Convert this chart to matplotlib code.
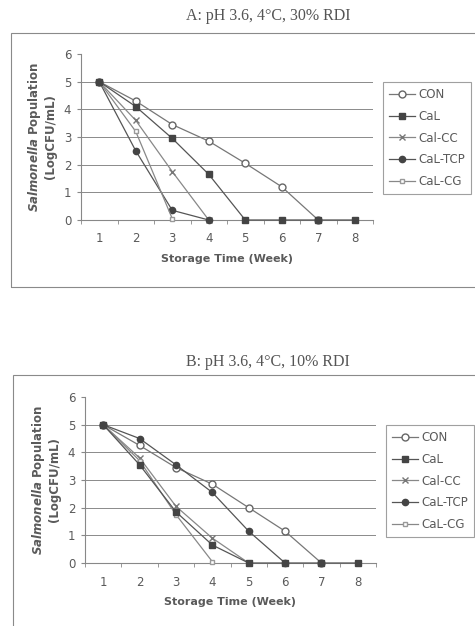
import numpy as np
import matplotlib.pyplot as plt
from matplotlib.patches import Rectangle

weeks = [1, 2, 3, 4, 5, 6, 7, 8]
labels = ['CON', 'CaL', 'Cal-CC', 'CaL-TCP', 'CaL-CG']
nan = np.nan

# panel A: 30% RDI
a_con = [5.0, 4.3, 3.45, 2.85, 2.05, 1.2, 0.0, nan]
a_cal = [5.0, 4.1, 2.95, 1.65, 0.0, 0.0, 0.0, 0.0]
a_cc = [5.0, 3.6, 1.75, 0.0, nan, nan, nan, nan]
a_tcp = [5.0, 2.5, 0.35, 0.0, nan, nan, nan, nan]
a_cg = [5.0, 3.2, 0.05, nan, nan, nan, nan, nan]

# panel B: 10% RDI
b_con = [5.0, 4.25, 3.45, 2.85, 2.0, 1.15, 0.0, nan]
b_cal = [5.0, 3.55, 1.85, 0.65, 0.0, 0.0, 0.0, 0.0]
b_cc = [5.0, 3.8, 2.05, 0.9, 0.0, nan, nan, nan]
b_tcp = [5.0, 4.5, 3.55, 2.55, 1.15, 0.0, nan, nan]
b_cg = [5.0, 3.7, 1.75, 0.05, nan, nan, nan, nan]

styles = [
    dict(marker='o', mfc='white', mec='#666666', ms=5, color='#777777'),
    dict(marker='s', mfc='#444444', mec='#444444', ms=4.5, color='#555555'),
    dict(marker='x', mfc='#777777', mec='#777777', ms=5, color='#888888'),
    dict(marker='o', mfc='#444444', mec='#444444', ms=4.5, color='#555555'),
    dict(marker='s', mfc='white', mec='#999999', ms=3.5, color='#888888'),
]
order = [0, 2, 3, 4, 1]  # CaL drawn last so its zero markers sit on top

txt = '#5a5a5a'

fig = plt.figure(figsize=(4.75, 6.26), dpi=100)


def panel(rect, series, title, title_y, box, leg_xy):
    ax = fig.add_axes(rect)
    lines = {}
    for i in order:
        ln, = ax.plot(weeks, series[i], lw=0.9, label=labels[i], clip_on=False,
                      zorder=3, **styles[i])
        lines[i] = ln
    for g in [1, 2, 3, 4, 5]:
        ax.axhline(g, color='#8a8a8a', lw=0.7, zorder=1)
    ax.set_xlim(0.5, 8.5)
    ax.set_ylim(0, 6)
    ax.set_yticks([0, 1, 2, 3, 4, 5, 6])
    ax.set_xticks(weeks)
    ax.set_xticks(np.arange(0.5, 9, 1), minor=True)
    ax.tick_params(axis='x', which='major', length=0, labelsize=8.5, colors=txt, pad=9)
    ax.tick_params(axis='x', which='minor', length=3, color='#888888', direction='out')
    ax.tick_params(axis='y', length=3, color='#888888', labelsize=8.5, colors=txt, pad=4)
    for s in ['top', 'right']:
        ax.spines[s].set_visible(False)
    for s in ['left', 'bottom']:
        ax.spines[s].set_color('#888888')
        ax.spines[s].set_linewidth(0.8)
    ax.set_xlabel('Storage Time (Week)', fontsize=8, fontweight='bold', color=txt, labelpad=6)
    ax.set_ylabel('$\\mathbfit{Salmonella}$ Population\n(LogCFU/mL)', fontsize=8.5,
                  fontweight='bold', color=txt, labelpad=5, linespacing=1.05)
    fig.text(268 / 475, title_y, title, ha='center', va='center', fontsize=11.5,
             family='Liberation Serif', color='#555555')
    fig.add_artist(Rectangle((box[0], box[1]), box[2], box[3], transform=fig.transFigure,
                             fill=False, edgecolor='#8a8a8a', lw=0.8))
    leg = ax.legend([lines[i] for i in range(5)], labels, loc='upper left',
                    bbox_to_anchor=leg_xy, bbox_transform=fig.transFigure,
                    fontsize=8.5, frameon=True, fancybox=False, edgecolor='#888888',
                    handlelength=2.2, handletextpad=0.3, labelspacing=0.75,
                    borderpad=0.5, borderaxespad=0)
    leg.get_frame().set_linewidth(0.8)
    for t in leg.get_texts():
        t.set_color(txt)
    return ax


panel([81 / 475, 1 - 220 / 626, 292 / 475, 166 / 626],
      [a_con, a_cal, a_cc, a_tcp, a_cg],
      'A: pH 3.6, 4°C, 30% RDI', 1 - 16 / 626,
      (11 / 475, 1 - 287 / 626, 0.99, 254 / 626), (383 / 475, 1 - 82 / 626))

panel([85 / 475, 1 - 563 / 626, 291 / 475, 166 / 626],
      [b_con, b_cal, b_cc, b_tcp, b_cg],
      'B: pH 3.6, 4°C, 10% RDI', 1 - 362 / 626,
      (13 / 475, -0.01, 0.99, 1 - 375 / 626 + 0.01), (386 / 475, 1 - 425 / 626))

fig.savefig('out.png', dpi=100)
